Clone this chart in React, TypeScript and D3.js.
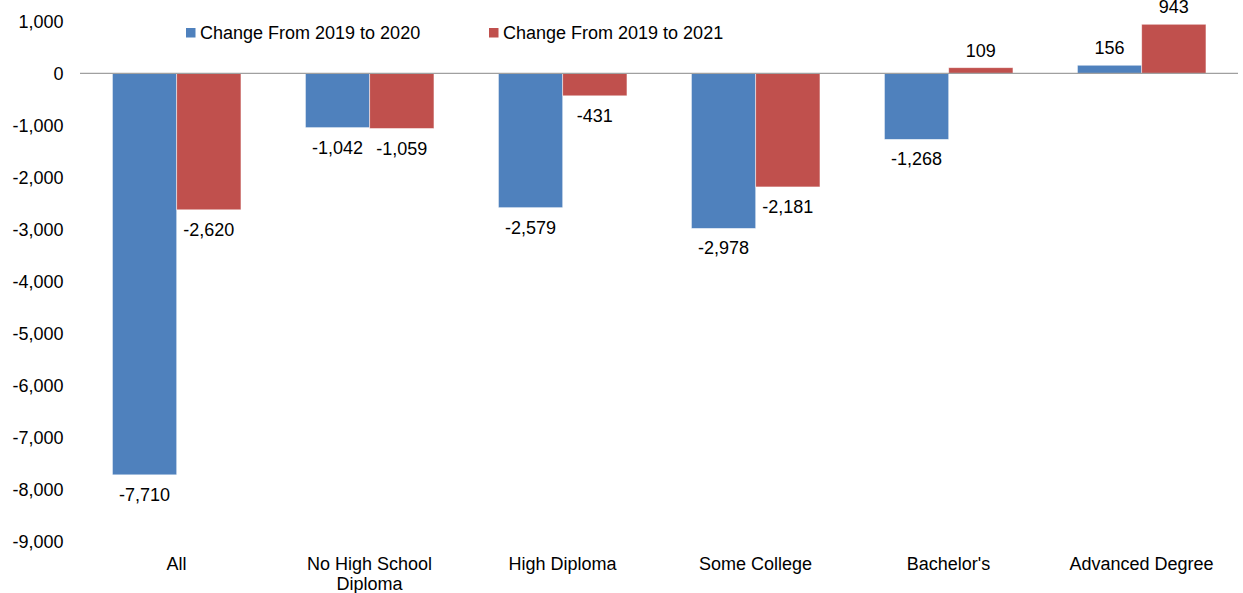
import React from "react";
import * as d3 from "d3";

const categories = ["All", "No High School Diploma", "High Diploma", "Some College", "Bachelor's", "Advanced Degree"];
const categoryLines = [["All"], ["No High School", "Diploma"], ["High Diploma"], ["Some College"], ["Bachelor's"], ["Advanced Degree"]];
const seriesNames = ["Change From 2019 to 2020", "Change From 2019 to 2021"];
const change2020 = [-7710, -1042, -2579, -2978, -1268, 156];
const change2021 = [-2620, -1059, -431, -2181, 109, 943];
const yTicks = [1000, 0, -1000, -2000, -3000, -4000, -5000, -6000, -7000, -8000, -9000];
const colors = ["#4F81BD", "#C0504D"];

const W = 1243;
const H = 593;
const FONT = "'Liberation Sans', Arial, sans-serif";
const FS = 18;

export default function App() {
  const left = 80;
  const right = 1238;
  const y = d3.scaleLinear().domain([-9000, 1000]).range([542, 21.3]);
  const x0 = d3.scaleBand<string>().domain(categories).range([left, right]).padding(0);
  const step = x0.step();
  const x1 = d3.scaleBand<string>().domain(seriesNames).range([step * 0.168, step * 0.834]).padding(0);
  const series = [change2020, change2021];
  const fmt = d3.format(",");
  const fmtNum = (v: number) => (v < 0 ? "-" + fmt(-v) : fmt(v));

  return (
    <svg width={W} height={H} style={{ position: "absolute", left: 0, top: 0, background: "#fff" }} fontFamily={FONT}>
      {/* y tick labels */}
      {yTicks.map((t) => (
        <text key={t} x={63.5} y={y(t)} dy="0.35em" textAnchor="end" fontSize={FS} fill="#000">
          {fmtNum(t)}
        </text>
      ))}
      {/* bars */}
      {categories.map((c, i) =>
        seriesNames.map((s, j) => {
          const v = series[j][i];
          const bx = (x0(c) as number) + (x1(s) as number);
          const bw = x1.bandwidth();
          const y0 = y(0);
          const yv = y(v);
          return (
            <g key={c + s}>
              <rect
                x={bx}
                y={Math.min(y0, yv)}
                width={bw}
                height={Math.abs(yv - y0)}
                fill={colors[j]}
                stroke="#ffffff"
                strokeOpacity={0.6}
                strokeWidth={0.8}
              />
              <text
                x={bx + bw / 2}
                y={v >= 0 ? yv - 11 : yv + 26}
                textAnchor="middle"
                fontSize={FS}
                fill="#000"
              >
                {fmtNum(v)}
              </text>
            </g>
          );
        })
      )}
      {/* zero axis line */}
      <line x1={left} x2={right} y1={y(0)} y2={y(0)} stroke="#a0a0a0" strokeWidth={1.3} />
      {/* category labels */}
      {categories.map((c, i) => (
        <text key={c} x={(x0(c) as number) + step / 2} y={570} textAnchor="middle" fontSize={FS} fill="#000">
          {categoryLines[i].map((ln, k) => (
            <tspan key={k} x={(x0(c) as number) + step / 2} dy={k === 0 ? 0 : 19.5}>
              {ln}
            </tspan>
          ))}
        </text>
      ))}
      {/* legend */}
      {seriesNames.map((s, j) => {
        const lx = [186, 489][j];
        return (
          <g key={s}>
            <rect x={lx} y={28} width={9.5} height={9.5} fill={colors[j]} />
            <text x={lx + 14} y={32.5} dy="0.35em" fontSize={FS} fill="#000">
              {s}
            </text>
          </g>
        );
      })}
    </svg>
  );
}
